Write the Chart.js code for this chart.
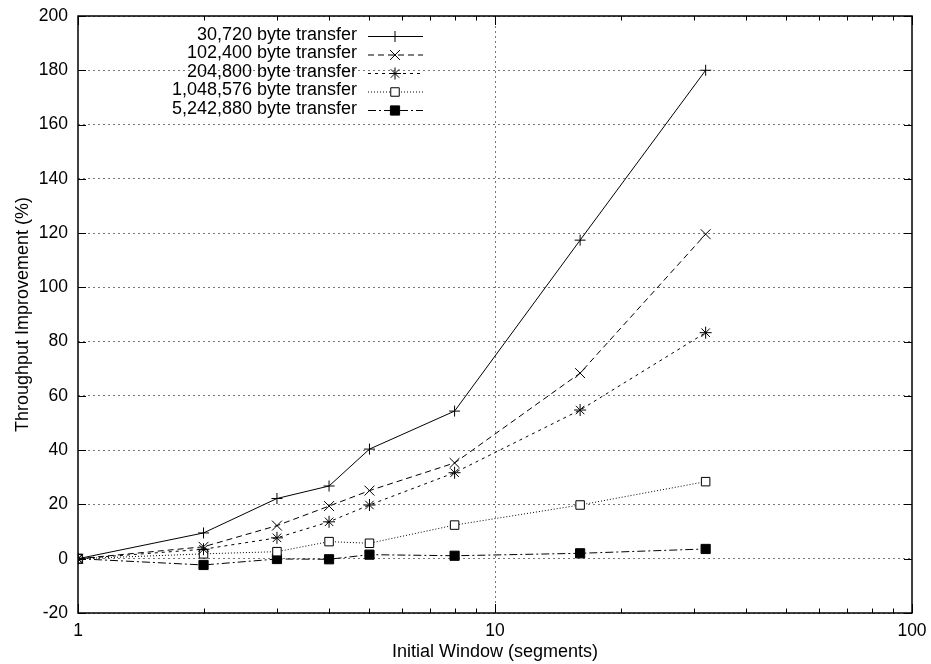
<!DOCTYPE html>
<html>
<head>
<meta charset="utf-8">
<script src="https://cdn.jsdelivr.net/npm/chart.js@4/dist/chart.umd.min.js"></script>
<style>
  html, body { margin: 0; padding: 0; background: #fff; }
  #wrap { width: 931px; height: 664px; }
</style>
</head>
<body>
<div id="wrap"><canvas id="chart"></canvas></div>
<script>
// ── DATA ────────────────────────────────────────────────────────────
var windows = [1, 2, 3, 4, 5, 8, 16, 32];   // initial window (segments)
var seriesNames = [
    "30,720 byte transfer",
    "102,400 byte transfer",
    "204,800 byte transfer",
    "1,048,576 byte transfer",
    "5,242,880 byte transfer"
];
var s30k  = [0, 9.5, 22.2, 26.8, 40.4, 54.4, 117.4, 180.0];
var s100k = [0, 4.4, 12.2, 19.4, 25.1, 35.3, 68.4, 119.6];
var s200k = [0, 3.5, 7.7, 13.6, 19.8, 31.7, 54.8, 83.3];
var s1m   = [0, 1.8, 2.6, 6.3, 5.7, 12.4, 19.8, 28.4];
var s5m   = [0, -2.3, -0.1, -0.2, 1.5, 1.1, 2.0, 3.6];
var yTicks = [-20, 0, 20, 40, 60, 80, 100, 120, 140, 160, 180, 200];
var xLabels = [1, 10, 100];

// ── STYLES ──────────────────────────────────────────────────────────
var FONT = "'Liberation Sans', Arial, sans-serif";
var STYLES = [
    { dash: [],           pointStyle: "cross",    radius: 5.5, fill: "#000" },
    { dash: [6, 4],       pointStyle: "crossRot", radius: 7,   fill: "#000" },
    { dash: [3, 4],       pointStyle: "star",     radius: 6,   fill: "#000" },
    { dash: [1, 2],       pointStyle: "rect",     radius: 6,   fill: "#fff" },
    { dash: [8, 3, 2, 3], pointStyle: "rect",     radius: 6.5, fill: "#000" }
];

function toPoints(vals) {
    var out = [];
    for (var i = 0; i < windows.length; i++) out.push({ x: windows[i], y: vals[i] });
    return out;
}

var allSeries = [s30k, s100k, s200k, s1m, s5m];
var datasets = [];
for (var i = 0; i < allSeries.length; i++) {
    var st = STYLES[i];
    datasets.push({
        label: seriesNames[i],
        data: toPoints(allSeries[i]),
        borderColor: "#000",
        borderWidth: 1,
        borderDash: st.dash,
        pointStyle: st.pointStyle,
        pointRadius: st.radius,
        pointBorderColor: "#000",
        pointBackgroundColor: st.fill,
        pointBorderWidth: 1,
        tension: 0,
        fill: false
    });
}

// ── FRAME, INWARD TICKS, KEY ────────────────────────────────────────
var gnuplotFrame = {
    id: "gnuplotFrame",
    afterDatasetsDraw: function (chart) {
        var ctx = chart.ctx;
        var a = chart.chartArea;
        var xs = chart.scales.x, ys = chart.scales.y;
        ctx.save();
        ctx.strokeStyle = "#000";
        ctx.lineWidth = 1;
        ctx.setLineDash([]);

        // y ticks on both sides
        for (var i = 0; i < yTicks.length; i++) {
            var py = Math.round(ys.getPixelForValue(yTicks[i])) + 0.5;
            ctx.beginPath();
            ctx.moveTo(a.left, py); ctx.lineTo(a.left + 8, py);
            ctx.moveTo(a.right, py); ctx.lineTo(a.right - 8, py);
            ctx.stroke();
        }
        // x ticks (major + minor), top and bottom
        for (var dec = 1; dec <= 100; dec *= 10) {
            for (var m = 1; m <= 9; m++) {
                var v = dec * m;
                if (v > 100) break;
                var px = Math.round(xs.getPixelForValue(v)) + 0.5;
                var len = (m === 1) ? 9 : 4.5;
                ctx.beginPath();
                ctx.moveTo(px, a.bottom); ctx.lineTo(px, a.bottom - len);
                ctx.moveTo(px, a.top); ctx.lineTo(px, a.top + len);
                ctx.stroke();
            }
        }
        // frame
        ctx.lineWidth = 1.5;
        ctx.strokeRect(a.left, a.top, a.right - a.left, a.bottom - a.top);

        // key (top left, text right-aligned, sample to the right)
        ctx.font = "18px " + FONT;
        ctx.fillStyle = "#000";
        ctx.textAlign = "right";
        ctx.textBaseline = "middle";
        var textRight = a.left + 279;
        for (var k = 0; k < datasets.length; k++) {
            var d = datasets[k];
            var y = a.top + 19 + k * 18.5;
            ctx.fillText(d.label, textRight, y);
            ctx.lineWidth = 1;
            ctx.setLineDash(d.borderDash);
            ctx.beginPath();
            ctx.moveTo(textRight + 11, y + 1.5);
            ctx.lineTo(textRight + 66, y + 1.5);
            ctx.stroke();
            ctx.setLineDash([]);
            ctx.fillStyle = d.pointBackgroundColor;
            Chart.helpers.drawPoint(ctx, {
                pointStyle: d.pointStyle, radius: d.pointRadius, rotation: 0, borderWidth: 1
            }, textRight + 38, y + 1.5);
            ctx.fillStyle = "#000";
        }
        ctx.restore();
    }
};

// ── CHART ───────────────────────────────────────────────────────────
new Chart(document.getElementById("chart"), {
    type: "line",
    data: { datasets: datasets },
    options: {
        responsive: true,
        maintainAspectRatio: false,
        animation: false,
        layout: { padding: { top: 16, right: 19, left: 0, bottom: 0 } },
        plugins: { legend: { display: false }, tooltip: { enabled: false } },
        scales: {
            x: {
                type: "logarithmic",
                min: 1,
                max: 100,
                afterFit: function (s) { s.height = 51; s.paddingLeft = 0; s.paddingRight = 0; },
                grid: {
                    drawTicks: false,
                    color: function (c) { return (c.tick && c.tick.value === 10) ? "#777" : "rgba(0,0,0,0)"; },
                    lineWidth: 1
                },
                border: { display: false, dash: [2, 3] },
                ticks: {
                    autoSkip: false,
                    maxRotation: 0,
                    padding: 8,
                    color: "#000",
                    font: { family: FONT, size: 17.5 },
                    callback: function (v) { return xLabels.indexOf(v) >= 0 ? String(v) : ""; }
                },
                title: {
                    display: true,
                    text: "Initial Window (segments)",
                    color: "#000",
                    font: { family: FONT, size: 18 },
                    padding: { top: 0, bottom: 1 }
                }
            },
            y: {
                min: -20,
                max: 200,
                afterFit: function (s) { s.width = 78; s.paddingTop = 0; s.paddingBottom = 0; },
                grid: { drawTicks: false, color: "#777", lineWidth: 1 },
                border: { display: false, dash: [2, 3] },
                ticks: {
                    stepSize: 20,
                    padding: 10,
                    color: "#000",
                    font: { family: FONT, size: 17.5 }
                },
                title: {
                    display: true,
                    text: "Throughput Improvement (%)",
                    color: "#000",
                    font: { family: FONT, size: 18 },
                    padding: { top: 12, bottom: 0 }
                }
            }
        }
    },
    plugins: [gnuplotFrame]
});
</script>
</body>
</html>
